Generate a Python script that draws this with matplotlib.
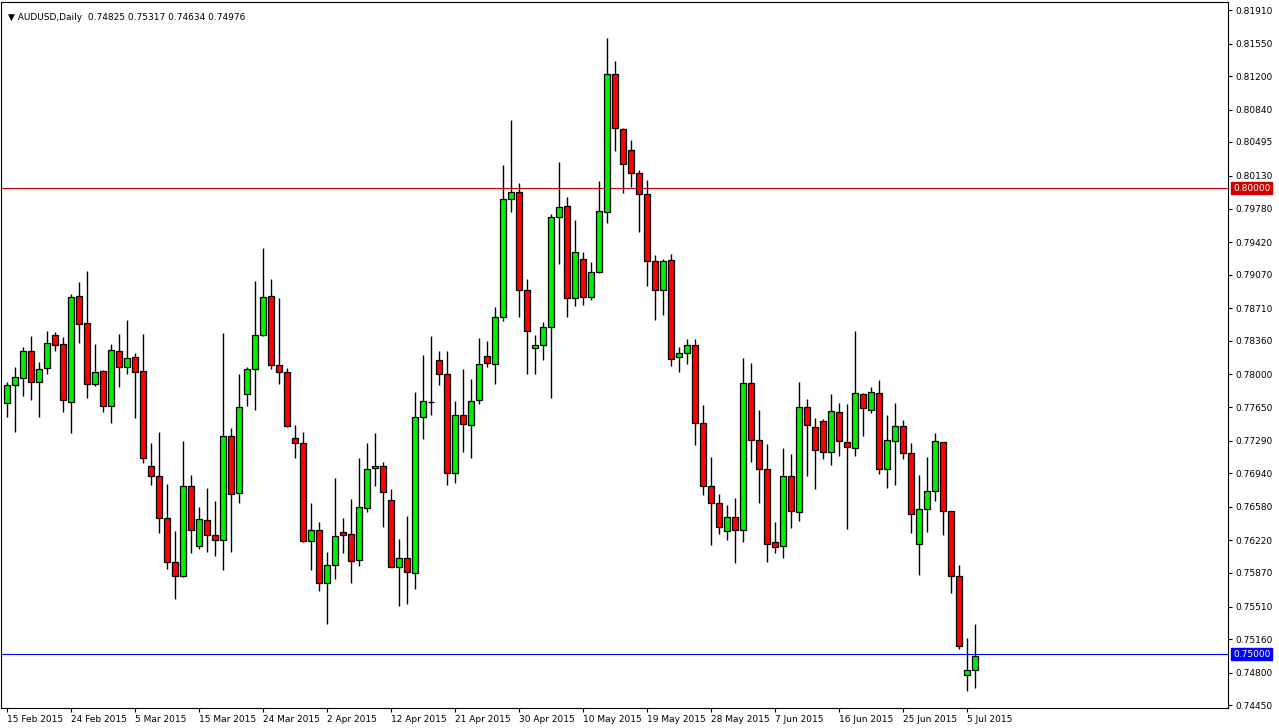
import pandas as pd
import matplotlib.pyplot as plt
from matplotlib.patches import Rectangle

# AUDUSD daily candles (Sunday bars included)
opens = [0.7769, 0.7789, 0.7796, 0.7825, 0.7792, 0.7807, 0.7842, 0.7833, 0.7770, 0.7884,
         0.7855, 0.7790, 0.7804, 0.7766, 0.7825, 0.7808, 0.7819, 0.7804, 0.7702, 0.7691,
         0.7646, 0.7599, 0.7584, 0.7680, 0.7616, 0.7644, 0.7628, 0.7622, 0.7734, 0.7673,
         0.7779, 0.7806, 0.7842, 0.7884, 0.7810, 0.7803, 0.7732, 0.7726, 0.7621, 0.7633,
         0.7576, 0.7595, 0.7631, 0.7629, 0.7601, 0.7657, 0.7700, 0.7702, 0.7665, 0.7593,
         0.7603, 0.7587, 0.7754, 0.7770, 0.7815, 0.7800, 0.7694, 0.7757, 0.7746, 0.7773,
         0.7820, 0.7811, 0.7862, 0.7988, 0.7996, 0.7891, 0.7828, 0.7832, 0.7851, 0.7969,
         0.7981, 0.7882, 0.7924, 0.7883, 0.7910, 0.7974, 0.8122, 0.8063, 0.8041, 0.8016,
         0.7994, 0.7922, 0.7891, 0.7923, 0.7819, 0.7823, 0.7832, 0.7748, 0.7680, 0.7662,
         0.7632, 0.7647, 0.7633, 0.7791, 0.7730, 0.7699, 0.7620, 0.7616, 0.7691, 0.7652,
         0.7765, 0.7744, 0.7750, 0.7717, 0.7760, 0.7727, 0.7721, 0.7779, 0.7762, 0.7780,
         0.7699, 0.7729, 0.7745, 0.7716, 0.7618, 0.7656, 0.7675, 0.7727, 0.7653, 0.7584,
         0.7477, 0.74825]
highs = [0.7792, 0.7808, 0.7829, 0.7841, 0.7813, 0.7847, 0.7845, 0.7840, 0.7886, 0.7899,
         0.7911, 0.7833, 0.7805, 0.7833, 0.7843, 0.7858, 0.7823, 0.7843, 0.7726, 0.7738,
         0.7682, 0.7632, 0.7729, 0.7692, 0.7658, 0.7678, 0.7664, 0.7844, 0.7742, 0.7801,
         0.7808, 0.7900, 0.7936, 0.7902, 0.7882, 0.7807, 0.7746, 0.7738, 0.7662, 0.7642,
         0.7610, 0.7689, 0.7646, 0.7666, 0.7710, 0.7726, 0.7737, 0.7706, 0.7677, 0.7623,
         0.7648, 0.7781, 0.7821, 0.7841, 0.7825, 0.7825, 0.7771, 0.7806, 0.7795, 0.7839,
         0.7836, 0.7872, 0.8025, 0.8073, 0.8005, 0.7902, 0.7842, 0.7856, 0.7972, 0.8028,
         0.7990, 0.7966, 0.7931, 0.7921, 0.8008, 0.8161, 0.8136, 0.8064, 0.8052, 0.8019,
         0.8009, 0.7928, 0.7924, 0.7929, 0.7829, 0.7838, 0.7838, 0.7767, 0.7711, 0.7672,
         0.7660, 0.7667, 0.7818, 0.7812, 0.7762, 0.7725, 0.7642, 0.7721, 0.7715, 0.7792,
         0.7774, 0.7753, 0.7752, 0.7779, 0.7769, 0.7768, 0.7847, 0.7780, 0.7787, 0.7794,
         0.7757, 0.7769, 0.7751, 0.7726, 0.7692, 0.7711, 0.7737, 0.7728, 0.7654, 0.7595,
         0.7517, 0.75317]
lows = [0.7754, 0.7738, 0.7777, 0.7773, 0.7754, 0.7801, 0.7825, 0.7760, 0.7737, 0.7834,
        0.7775, 0.7788, 0.7760, 0.7748, 0.7787, 0.7801, 0.7753, 0.7705, 0.7681, 0.7630,
        0.7591, 0.7559, 0.7583, 0.7608, 0.7613, 0.7609, 0.7605, 0.7590, 0.7610, 0.7662,
        0.7766, 0.7762, 0.7841, 0.7806, 0.7790, 0.7744, 0.7710, 0.7620, 0.7590, 0.7568,
        0.7532, 0.7580, 0.7608, 0.7576, 0.7594, 0.7652, 0.7680, 0.7636, 0.7593, 0.7552,
        0.7554, 0.7570, 0.7731, 0.7757, 0.7789, 0.7681, 0.7684, 0.7717, 0.7710, 0.7768,
        0.7808, 0.7790, 0.7857, 0.7974, 0.7862, 0.7801, 0.7800, 0.7815, 0.7775, 0.7918,
        0.7862, 0.7873, 0.7874, 0.7880, 0.7909, 0.7962, 0.8040, 0.7995, 0.8001, 0.7953,
        0.7895, 0.7858, 0.7864, 0.7809, 0.7803, 0.7811, 0.7724, 0.7671, 0.7617, 0.7629,
        0.7622, 0.7598, 0.7620, 0.7706, 0.7662, 0.7599, 0.7608, 0.7603, 0.7635, 0.7643,
        0.7691, 0.7677, 0.7709, 0.7703, 0.7713, 0.7634, 0.7713, 0.7734, 0.7759, 0.7693,
        0.7678, 0.7681, 0.7709, 0.7630, 0.7585, 0.7631, 0.7664, 0.7628, 0.7566, 0.7505,
        0.7460, 0.74634]
closes = [0.7789, 0.7797, 0.7825, 0.7792, 0.7806, 0.7834, 0.7832, 0.7773, 0.7883, 0.7854,
          0.7790, 0.7803, 0.7766, 0.7826, 0.7808, 0.7818, 0.7803, 0.7710, 0.7691, 0.7646,
          0.7599, 0.7584, 0.7680, 0.7633, 0.7645, 0.7628, 0.7622, 0.7734, 0.7672, 0.7765,
          0.7806, 0.7842, 0.7883, 0.7810, 0.7803, 0.7745, 0.7726, 0.7621, 0.7633, 0.7576,
          0.7595, 0.7627, 0.7628, 0.7600, 0.7658, 0.7699, 0.7702, 0.7674, 0.7593, 0.7603,
          0.7588, 0.7754, 0.7771, 0.7770, 0.7800, 0.7694, 0.7756, 0.7747, 0.7771, 0.7811,
          0.7812, 0.7862, 0.7988, 0.7996, 0.7891, 0.7847, 0.7832, 0.7851, 0.7969, 0.7980,
          0.7882, 0.7931, 0.7883, 0.7910, 0.7975, 0.8122, 0.8064, 0.8026, 0.8016, 0.7994,
          0.7922, 0.7891, 0.7922, 0.7817, 0.7823, 0.7832, 0.7748, 0.7680, 0.7662, 0.7636,
          0.7647, 0.7633, 0.7791, 0.7730, 0.7699, 0.7618, 0.7615, 0.7691, 0.7653, 0.7765,
          0.7746, 0.7719, 0.7717, 0.7761, 0.7729, 0.7722, 0.7780, 0.7764, 0.7781, 0.7699,
          0.7730, 0.7745, 0.7716, 0.7650, 0.7656, 0.7675, 0.7729, 0.7653, 0.7584, 0.7509,
          0.7483, 0.74976]

y_ticks = [0.81910, 0.81550, 0.81200, 0.80840, 0.80495, 0.80130, 0.79780, 0.79420,
           0.79070, 0.78710, 0.78360, 0.78000, 0.77650, 0.77290, 0.76940, 0.76580,
           0.76220, 0.75870, 0.75510, 0.75160, 0.74800, 0.74450]
levels = [0.80000, 0.75000]
level_colors = ["#d00000", "#0000ff"]

# trading days: Sunday through Friday
dates = pd.date_range("2015-02-15", periods=160, freq="D")
dates = dates[dates.dayofweek != 5][:len(opens)]

W, H = 1279, 728
fig = plt.figure(figsize=(W / 100, H / 100), dpi=100)
ax = fig.add_axes([1 / W, 1 - 708 / H, 1227 / W, 706 / H])

for i, (o, h, l, c) in enumerate(zip(opens, highs, lows, closes)):
    col = "#00ee00" if c >= o else "#ff0000"
    ax.vlines(i, l, h, color="black", lw=1, zorder=2)
    lo, hi = min(o, c), max(o, c)
    ax.add_patch(Rectangle((i - 0.32, lo), 0.64, max(hi - lo, 0.00005),
                           facecolor=col, edgecolor="black", lw=0.9, zorder=3))

for lv, lc in zip(levels, level_colors):
    ax.axhline(lv, color=lc, lw=0.8, zorder=1)
    ax.text(1.004, lv, f"{lv:.5f}", transform=ax.get_yaxis_transform(),
            color="white", fontsize=6.5, va="center", ha="left",
            bbox=dict(boxstyle="square,pad=0.2", fc=lc, ec=lc), clip_on=False)

ax.set_xlim(-0.75, 1227 / 8 - 0.75)
ax.set_ylim(0.74421, 0.81996)
ax.yaxis.tick_right()
ax.set_yticks(y_ticks)
ax.set_yticklabels([f"{t:.5f}" for t in y_ticks], fontsize=6.5)
xt = list(range(0, len(dates), 8))
ax.set_xticks(xt)
ax.set_xticklabels([f"{dates[i].day} {dates[i]:%b %Y}" for i in xt], fontsize=6.5, ha="left")
for lbl in ax.get_xticklabels():
    lbl.set_x(lbl.get_position()[0] - 0.4)
ax.tick_params(length=3, width=0.8, pad=2)
for s in ax.spines.values():
    s.set_linewidth(0.8)

ax.text(0.006, 0.985, "\u25bc AUDUSD,Daily  0.74825 0.75317 0.74634 0.74976",
        transform=ax.transAxes, fontsize=6.5, va="top", ha="left")

fig.savefig("out.png", dpi=100)
